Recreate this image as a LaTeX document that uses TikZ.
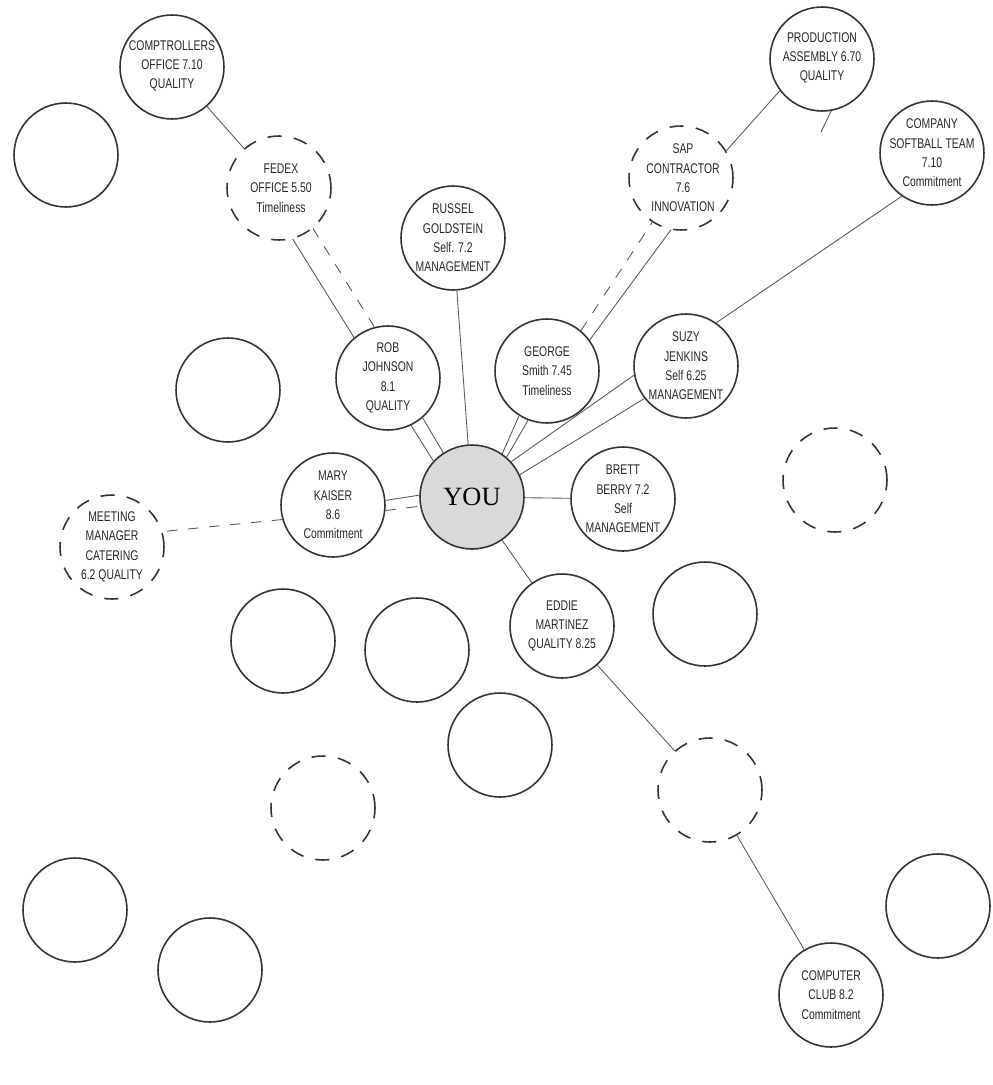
\documentclass[tikz,border=0pt]{standalone}
\usepackage{fontspec}
\setmainfont{Liberation Serif}
\newfontfamily\hand[FakeStretch=0.74]{Liberation Sans}
\usetikzlibrary{calc}

\begin{document}
\begin{tikzpicture}[x=0.02cm, y=-0.02cm,
    circ/.style={circle, draw=black!80, line width=0.9pt, minimum size=2.08cm, inner sep=0pt},
    dcirc/.style={circ, dash pattern=on 8pt off 7pt},
    hand/.style={font=\hand\fontsize{8}{11}\selectfont, align=center, inner sep=0pt, text=black!85},
    link/.style={line width=0.5pt, draw=black!65},
    dlink/.style={link, dash pattern=on 6pt off 6pt}]
    \useasboundingbox (0,0) rectangle (992,1085);

    % the people
    \node[circ]  (comp)    at (172,67)  {};
    \node[dcirc] (fedex)   at (279,188) {};
    \node[circ]  (prod)    at (822,59)  {};
    \node[dcirc] (sap)     at (681,178) {};
    \node[circ]  (team)    at (932,153) {};
    \node[circ]  (russel)  at (453,238) {};
    \node[circ]  (rob)     at (388,378) {};
    \node[circ]  (george)  at (547,371) {};
    \node[circ]  (suzy)    at (686,366) {};
    \node[circ, fill=black!15, font=\fontsize{15}{15}\selectfont] (you) at (472,497) {YOU};
    \node[circ]  (mary)    at (333,505) {};
    \node[circ]  (brett)   at (623,499) {};
    \node[dcirc] (meeting) at (112,547) {};
    \node[circ]  (eddie)   at (562,626) {};
    \node[circ]  (club)    at (831,995) {};

    % empty ones
    \foreach \n/\p in {e1/{(66,155)}, e2/{(228,390)}, e4/{(283,641)}, e5/{(417,650)},
                       e6/{(705,614)}, e7/{(500,745)}, e10/{(938,906)}, e11/{(75,910)}, e12/{(210,970)}}
        \node[circ] (\n) at \p {};
    \foreach \n/\p in {e3/{(835,480)}, e8/{(710,790)}, e9/{(323,808)}}
        \node[dcirc] (\n) at \p {};

    % what is written in them
    \node[hand] (compt)    at (172,66)  {COMPTROLLERS\\OFFICE 7.10\\QUALITY};
    \node[hand] (fedext)   at (281,188) {FEDEX\\OFFICE 5.50\\Timeliness};
    \node[hand] (prodt)    at (822,58)  {PRODUCTION\\ASSEMBLY 6.70\\QUALITY};
    \node[hand] (sapt)     at (683,178) {SAP\\CONTRACTOR\\7.6\\INNOVATION};
    \node[hand] (teamt)    at (932,153) {COMPANY\\SOFTBALL TEAM\\7.10\\Commitment};
    \node[hand] (russelt)  at (453,238) {RUSSEL\\GOLDSTEIN\\Self. 7.2\\MANAGEMENT};
    \node[hand] (robt)     at (388,378) {ROB\\JOHNSON\\8.1\\QUALITY};
    \node[hand] (georget)  at (547,371) {GEORGE\\Smith 7.45\\Timeliness};
    \node[hand] (suzyt)    at (686,366) {SUZY\\JENKINS\\Self 6.25\\MANAGEMENT};
    \node[hand] (maryt)    at (333,505) {MARY\\KAISER\\8.6\\Commitment};
    \node[hand] (brettt)   at (623,499) {BRETT\\BERRY 7.2\\Self\\MANAGEMENT};
    \node[hand] (meetingt) at (112,547) {MEETING\\MANAGER\\CATERING\\6.2 QUALITY};
    \node[hand] (eddiet)   at (562,626) {EDDIE\\MARTINEZ\\QUALITY 8.25};
    \node[hand] (clubt)    at (831,995) {COMPUTER\\CLUB 8.2\\Commitment};

    % links
    \draw[link]  (comp) -- (fedex);
    \draw[link]  (fedex.-75) -- (rob.130);
    \draw[dlink] (fedex.-50) -- (rob.105);
    \draw[link]  (rob.-64) -- (you.137);
    \draw[link]  (rob.-49) -- (you.123);
    \draw[link]  (russel) -- (you);
    \draw[link]  (george.-122) -- (you.55);
    \draw[link]  (george.-111) -- (you.49);
    \draw[link]  (george.36) -- (sap.-101);
    \draw[dlink] (george.50) -- (sap.-123);
    \draw[link]  (sap.31) -- (prod.217);
    \coordinate (stray) at (821,132);
    \draw[link]  (prod.-80) -- (stray);
    \draw[link]  (suzy.55) -- (team.235);
    \draw[link]  (suzy.-170) -- (you.42);
    \draw[link]  (suzy.-142) -- (you.25);
    \draw[link]  (you) -- (brett);
    \draw[link]  (mary.5) -- (you.178);
    \draw[dlink] (mary.-6) -- (you.190);
    \draw[dlink] (mary.196) -- (meeting.17);
    \draw[link]  (you) -- (eddie);
    \draw[link]  (eddie) -- (e8);
    \draw[link]  (e8) -- (club);
\end{tikzpicture}
\end{document}
